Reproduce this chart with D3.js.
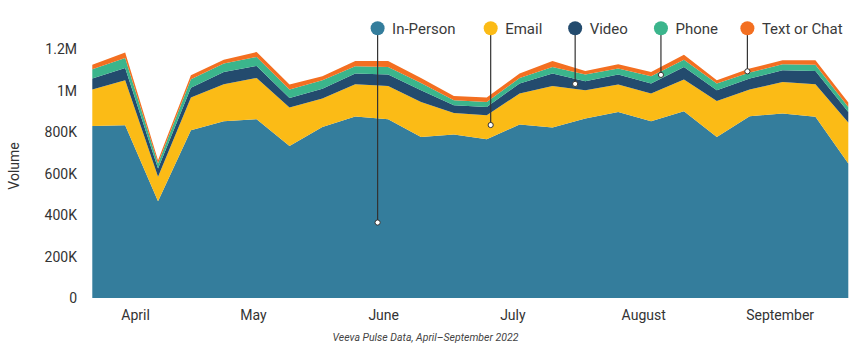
<!DOCTYPE html>
<html>
<head>
<meta charset="utf-8">
<script src="https://cdn.jsdelivr.net/npm/d3@7"></script>
<style>
  html, body { margin: 0; padding: 0; background: #fff; }
  svg { display: block; font-family: Roboto, "Noto Sans", sans-serif; }
</style>
</head>
<body>
<svg id="chart" width="858" height="359"></svg>
<script>
// ---- data ----
const weeks = d3.range(24); // weekly points, April–September 2022
const inPerson = [830000, 834000, 467000, 810000, 853000, 863000, 733000, 825000, 876000, 863000, 777000, 789000, 766000, 837000, 823000, 866000, 898000, 853000, 901000, 777000, 877000, 890000, 874000, 649000];
const email    = [176000, 217000, 118000, 157000, 178000, 199000, 186000, 138000, 155000, 160000, 169000, 104000, 116000, 150000, 200000, 136000, 132000, 134000, 153000, 174000, 129000, 152000, 157000, 198000];
const video    = [53000, 59000, 40000, 48000, 60000, 58000, 46000, 47000, 52000, 55000, 56000, 37000, 40000, 48000, 60000, 44000, 48000, 48000, 61000, 51000, 53000, 57000, 64000, 51000];
const phone    = [45000, 48000, 24000, 40000, 40000, 43000, 41000, 41000, 35000, 37000, 36000, 24000, 24000, 27000, 32000, 32000, 29000, 35000, 35000, 33000, 29000, 29000, 31000, 24000];
const textChat = [22000, 26000, 16000, 20000, 19000, 24000, 24000, 19000, 26000, 29000, 24000, 21000, 21000, 21000, 29000, 17000, 21000, 21000, 24000, 16000, 19000, 19000, 21000, 21000];

const seriesNames = ["In-Person", "Email", "Video", "Phone", "Text or Chat"];
const seriesColors = ["#347d9c", "#fbbb16", "#234b6e", "#3bb58c", "#f36f21"];
const yTicks = [0, 200000, 400000, 600000, 800000, 1000000, 1200000];
const yTickLabels = ["0", "200K", "400K", "600K", "800K", "1M", "1.2M"];
const monthLabels = ["April", "May", "June", "July", "August", "September"];
const monthPos = [1.30, 4.89, 8.85, 12.78, 16.76, 20.91];
// leader-line anchors (week index, fraction of band height)
const anchorWeek = [8.68, 12.12, 14.69, 17.30, 19.93];
const anchorFrac = [0.42, 0.5, 0.5, 0.5, 0.5];

// ---- build ----
const allSeries = [inPerson, email, video, phone, textChat];
const rows = weeks.map(i => {
  const r = { week: i };
  seriesNames.forEach((n, k) => r[n] = allSeries[k][i]);
  return r;
});
const stacked = d3.stack().keys(seriesNames)(rows);

const svg = d3.select("#chart");
const x = d3.scaleLinear().domain([0, 23]).range([92.3, 848.3]);
const y = d3.scaleLinear().domain([0, 1200000]).range([298, 49.3]);

const area = d3.area()
  .x(d => x(d.data.week))
  .y0(d => y(d[0]))
  .y1(d => y(d[1]));

svg.append("g").selectAll("path")
  .data(stacked)
  .join("path")
  .attr("d", area)
  .attr("fill", (d, i) => seriesColors[i]);

// y axis
const yAxis = d3.axisLeft(y).tickValues(yTicks)
  .tickFormat((d, i) => yTickLabels[i]).tickSize(0).tickPadding(0);
const gy = svg.append("g").attr("transform", "translate(77,0)").call(yAxis);
gy.select(".domain").remove();
gy.selectAll("text").attr("fill", "#333").style("font-size", "14px")
  .style("font-family", "Roboto, sans-serif");

// x axis
const xAxis = d3.axisBottom(x).tickValues(monthPos)
  .tickFormat((d, i) => monthLabels[i]).tickSize(0).tickPadding(0);
const gx = svg.append("g").attr("transform", "translate(0,310)").call(xAxis);
gx.select(".domain").remove();
gx.selectAll("text").attr("fill", "#333").style("font-size", "14px")
  .style("font-family", "Roboto, sans-serif");

// y title
svg.append("text")
  .attr("transform", "translate(19,166) rotate(-90)")
  .attr("text-anchor", "middle")
  .attr("fill", "#333")
  .style("font-size", "14px")
  .text("Volume");

// caption
svg.append("text")
  .attr("x", 425.5).attr("y", 341)
  .attr("text-anchor", "middle")
  .attr("fill", "#444")
  .style("font-size", "10.5px")
  .style("font-style", "italic")
  .text("Veeva Pulse Data, April\u2013September 2022");

// legend with leader lines
const legendY = 28.3;
const lg = svg.append("g");
seriesNames.forEach((name, k) => {
  const w = anchorWeek[k];
  const i0 = Math.floor(w), t = w - i0;
  const lo = stacked[k][i0][0] * (1 - t) + stacked[k][i0 + 1][0] * t;
  const hi = stacked[k][i0][1] * (1 - t) + stacked[k][i0 + 1][1] * t;
  const ay = y(lo + (hi - lo) * anchorFrac[k]);
  const ax = x(w);
  lg.append("line")
    .attr("x1", ax).attr("x2", ax)
    .attr("y1", legendY).attr("y2", ay)
    .attr("stroke", "#333").attr("stroke-width", 1.2);
  lg.append("circle")
    .attr("cx", ax).attr("cy", ay).attr("r", 2.6)
    .attr("fill", "#fff").attr("stroke", "#333").attr("stroke-width", 1);
  lg.append("circle")
    .attr("cx", ax).attr("cy", legendY).attr("r", 7)
    .attr("fill", seriesColors[k]);
  lg.append("text")
    .attr("x", ax + 14.5).attr("y", legendY + 5.3)
    .attr("fill", "#3a3a3a")
    .style("font-size", "15px")
    .text(name);
});
</script>
</body>
</html>
